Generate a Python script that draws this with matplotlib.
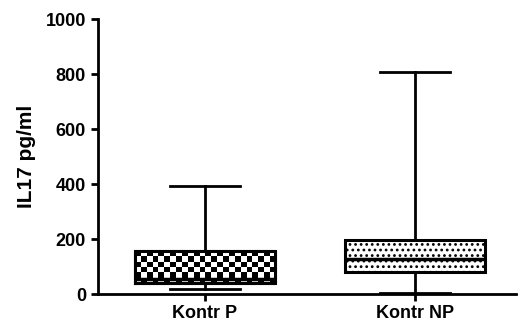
import numpy as np
import matplotlib.pyplot as plt

plt.rcParams['font.family'] = ['Liberation Sans', 'DejaVu Sans']
plt.rcParams['font.weight'] = 'bold'
plt.rcParams['hatch.linewidth'] = 1.2

groups = ['Kontr P', 'Kontr NP']
whislo = [18, 4]
q1 = [40, 80]
med = [55, 127]
q3 = [156, 196]
whishi = [392, 808]

positions = [1, 2]
box_width = 0.67

stats = []
for i, name in enumerate(groups):
    stats.append({'label': name, 'whislo': whislo[i], 'q1': q1[i], 'med': med[i],
                  'q3': q3[i], 'whishi': whishi[i], 'fliers': []})

fig = plt.figure(figsize=(5.18, 3.29), dpi=100)
ax = fig.add_axes([0.189, 0.106, 0.807, 0.836])

bp = ax.bxp(stats, positions=positions, widths=box_width, patch_artist=True,
            showfliers=False,
            boxprops=dict(facecolor='white', edgecolor='black', linewidth=2.2),
            whiskerprops=dict(color='black', linewidth=2),
            capprops=dict(color='black', linewidth=2),
            medianprops=dict(color='black', linewidth=2.5),
            capwidths=box_width * 0.5)

for b in bp['boxes']:
    b.set_zorder(4)
for line in bp['medians']:
    line.set_zorder(6)

# checkerboard fill for the first box, clipped to the box outline
box0 = bp['boxes'][0]
ncols, nrows = 24, 6
checker = (np.add.outer(np.arange(nrows), np.arange(ncols)) % 2).astype(float)
x0 = positions[0] - box_width / 2
im = ax.imshow(checker, cmap='gray', interpolation='nearest', aspect='auto',
               extent=[x0, x0 + box_width, q1[0], q3[0]], zorder=4.5)
im.set_clip_path(box0)
ax.plot([x0, x0 + box_width, x0 + box_width, x0, x0],
        [q1[0], q1[0], q3[0], q3[0], q1[0]], color='black', lw=2.2, zorder=5)

# dotted fill for the second box
bp['boxes'][1].set_hatch('...')

ax.set_aspect('auto')
ax.set_xlim(0.49, 2.48)
ax.set_ylim(0, 1000)

for side in ['top', 'right']:
    ax.spines[side].set_visible(False)
for side in ['left', 'bottom']:
    ax.spines[side].set_linewidth(2)

ax.set_yticks([0, 200, 400, 600, 800, 1000])
ax.set_xticks(positions)
ax.set_xticklabels(groups)
ax.tick_params(axis='both', direction='out', width=2, length=5, labelsize=13)
ax.tick_params(axis='x', pad=3)
ax.set_ylabel('IL17 pg/ml', fontsize=15, fontweight='bold', labelpad=7)
for lab in ax.get_xticklabels() + ax.get_yticklabels():
    lab.set_fontweight('bold')

fig.savefig('out.png', dpi=100)
